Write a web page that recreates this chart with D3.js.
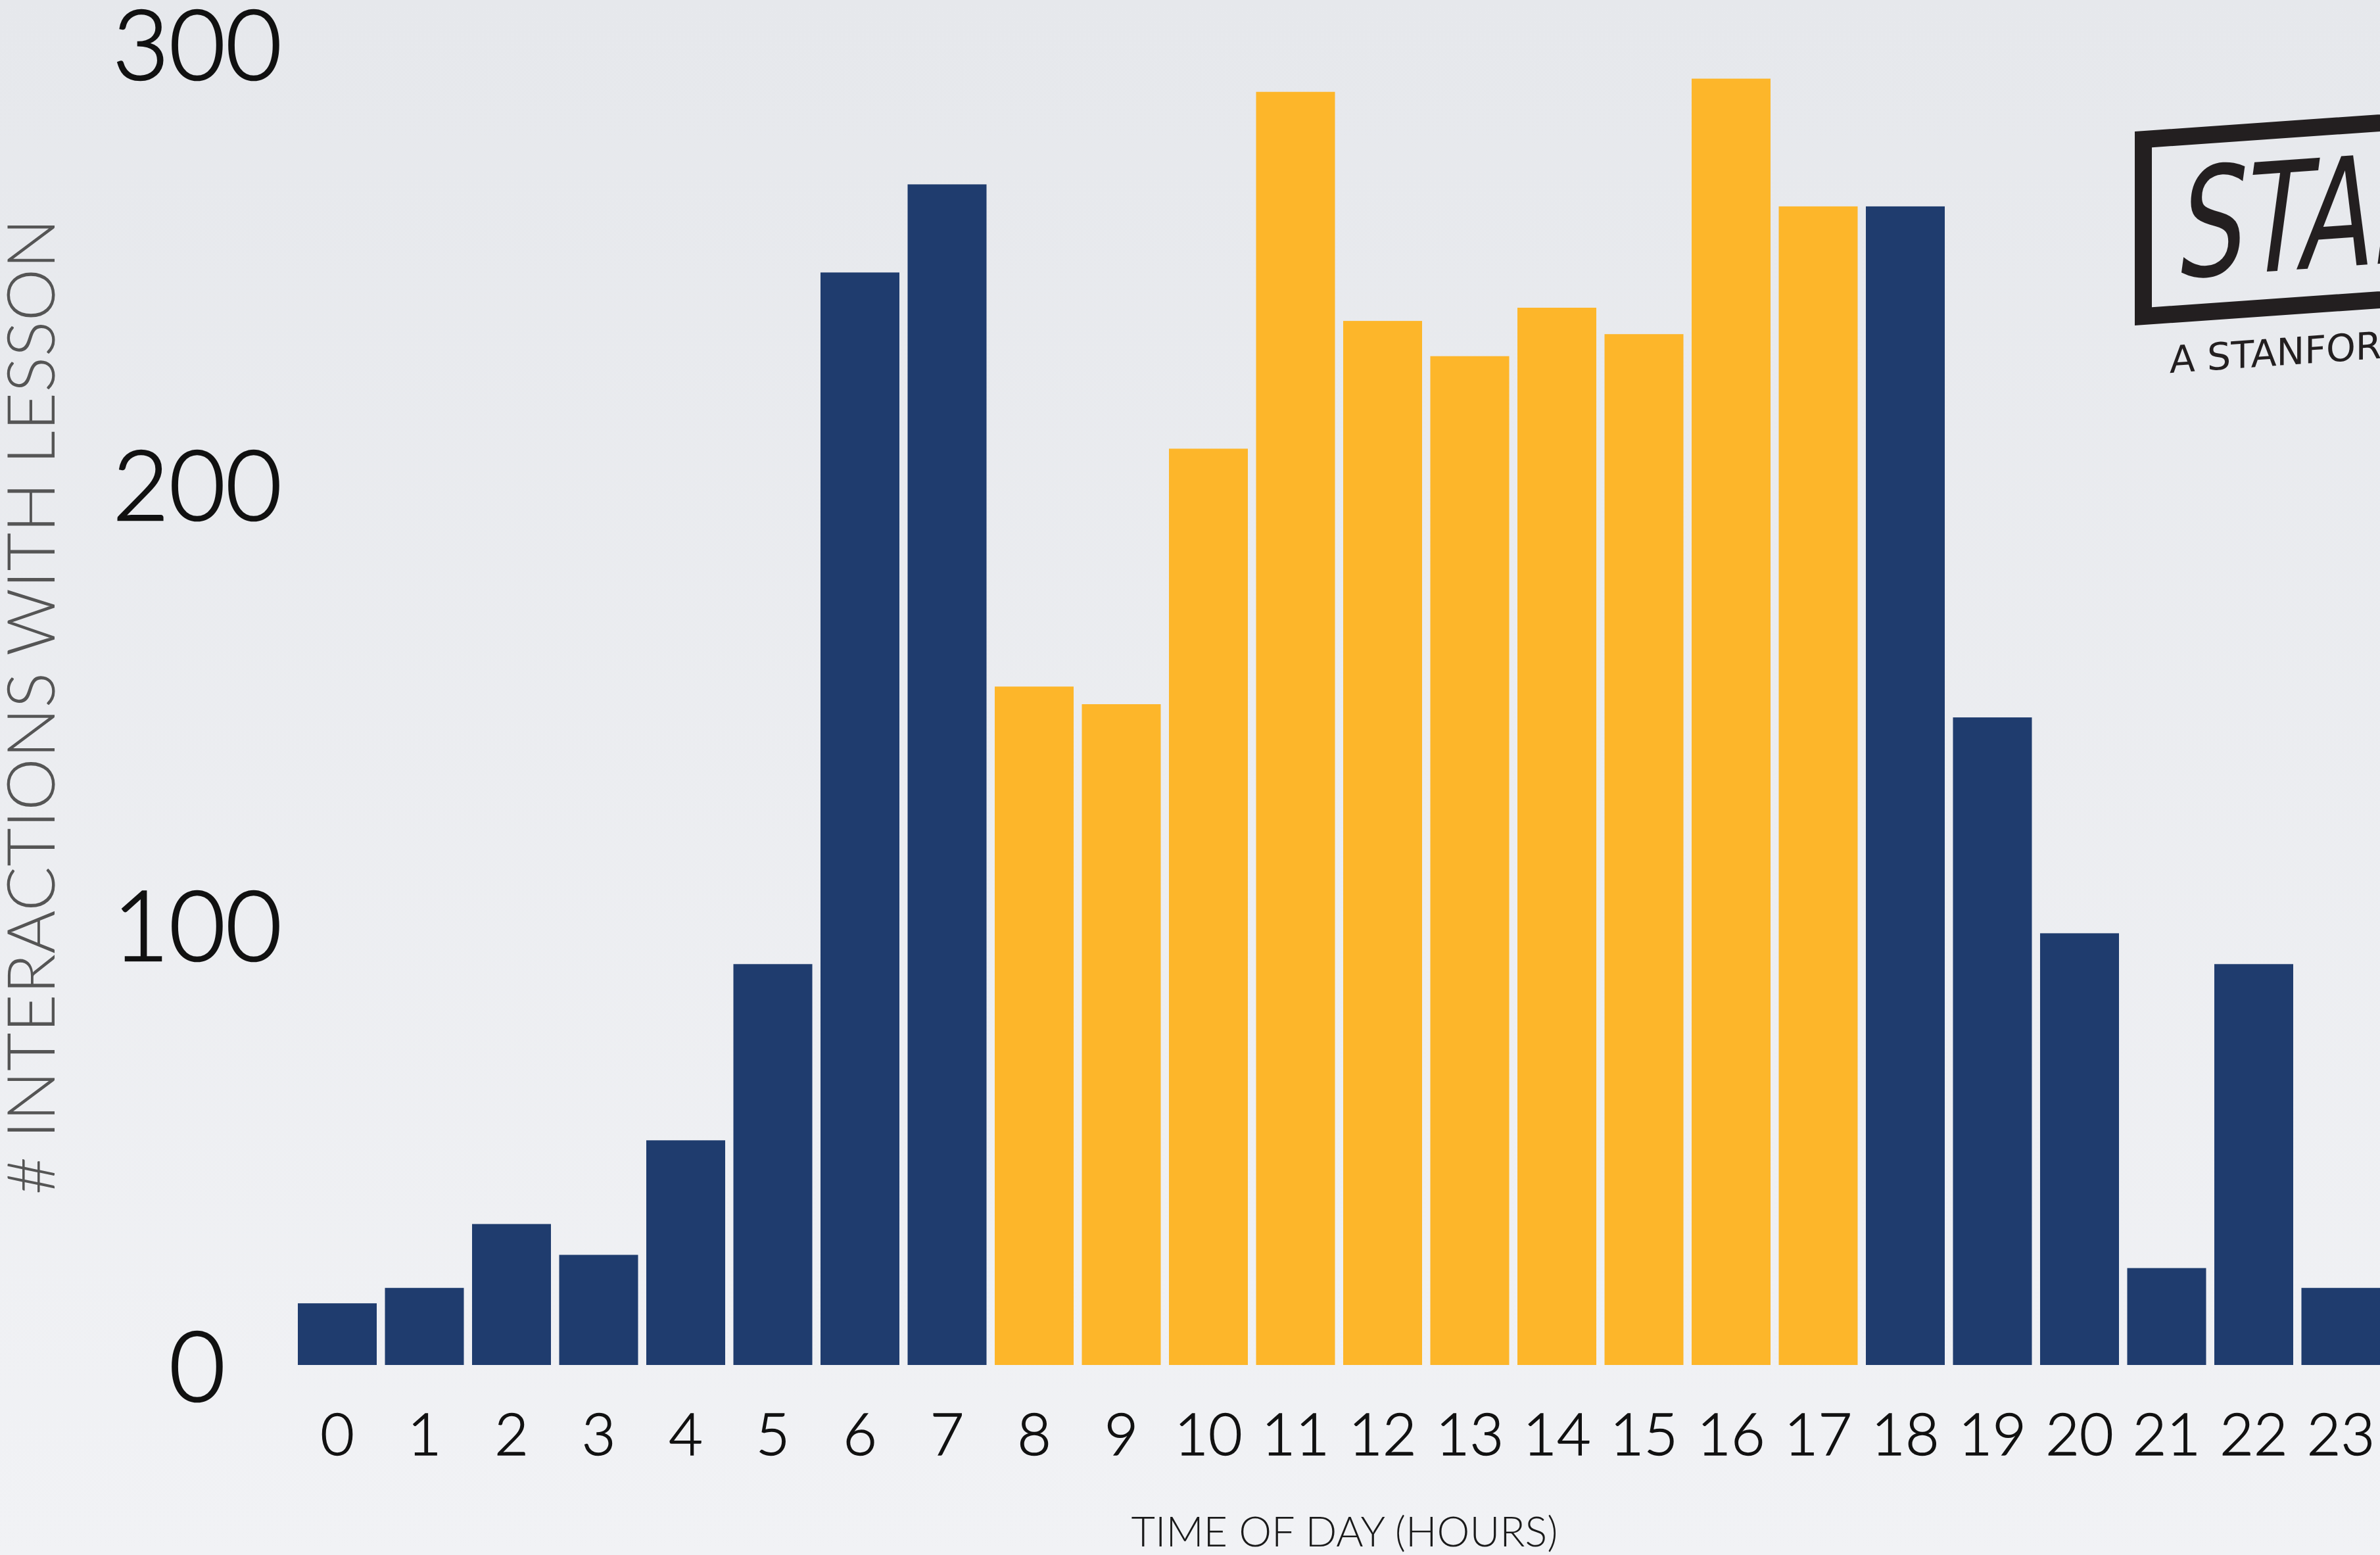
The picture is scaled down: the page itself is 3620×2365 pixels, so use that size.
<!DOCTYPE html>
<html>
<head>
<meta charset="utf-8">
<script src="https://cdn.jsdelivr.net/npm/d3@7"></script>
<style>
  html, body { margin: 0; padding: 0; background: #eceef1; overflow: hidden; }
  svg { display: block; }
</style>
</head>
<body>
<svg id="chart" width="3620" height="2365"></svg>
<script>
// ---- data ----
const hours = ["0","1","2","3","4","5","6","7","8","9","10","11","12","13","14","15","16","17","18","19","20","21","22","23"];
const interactions = [14, 17.5, 32, 25, 51, 91, 248, 268, 154, 150, 208, 289, 237, 229, 240, 234, 292, 263, 263, 147, 98, 22, 91, 17.5];
const highlighted = ["8","9","10","11","12","13","14","15","16","17"];
const yTicks = [0, 100, 200, 300];
const xTitle = "TIME OF DAY (HOURS)";
const yTitle = "# INTERACTIONS WITH LESSON";
const logoMain = "STANFORD";
const logoSub = "A STANFORD ONLINE COURSE";

// ---- layout ----
const W = 3620, H = 2365;
const svg = d3.select("#chart");

const defs = svg.append("defs");
const grad = defs.append("linearGradient").attr("id", "bg").attr("x1", 0).attr("y1", 0).attr("x2", 0).attr("y2", 1);
grad.append("stop").attr("offset", "0%").attr("stop-color", "#e6e8ec");
grad.append("stop").attr("offset", "100%").attr("stop-color", "#f1f2f5");
svg.append("rect").attr("width", W).attr("height", H).attr("fill", "url(#bg)");

const step = 132.5;
const x = d3.scaleBand()
  .domain(hours)
  .range([453 - step * 0.0472, 453 - step * 0.0472 + step * 24])
  .paddingInner(0.0943)
  .paddingOuter(0.0472);

const y = d3.scaleLinear().domain([0, 300]).range([2076, 66]);

const navy = "#1f3c6e", gold = "#fdb62a";

// bars
svg.append("g").selectAll("rect")
  .data(hours)
  .join("rect")
  .attr("x", d => x(d))
  .attr("width", x.bandwidth())
  .attr("y", (d, i) => y(interactions[i]))
  .attr("height", (d, i) => y(0) - y(interactions[i]))
  .attr("fill", d => highlighted.includes(d) ? gold : navy);

// x axis labels
const xAxis = d3.axisBottom(x).tickSize(0).tickPadding(0);
const gx = svg.append("g").attr("transform", "translate(0,2213)").call(xAxis);
gx.select(".domain").remove();
gx.selectAll("text")
  .attr("dy", 0)
  .attr("y", 0)
  .attr("font-family", "Lato, 'Open Sans', sans-serif")
  .attr("font-weight", 300)
  .attr("font-size", 89)
  .attr("fill", "#111")
  .attr("stroke", "#111")
  .attr("stroke-width", 1.5);

// y axis labels (centered at x=300)
const yAxis = d3.axisLeft(y).tickValues(yTicks).tickSize(0).tickPadding(0);
const gy = svg.append("g").attr("transform", "translate(300,0)").call(yAxis);
gy.select(".domain").remove();
gy.selectAll("text")
  .attr("x", 0)
  .attr("dy", 0)
  .attr("y", 54)
  .attr("text-anchor", "middle")
  .attr("font-family", "Lato, 'Open Sans', sans-serif")
  .attr("font-weight", 300)
  .attr("font-size", 148)
  .attr("fill", "#111")
  .attr("stroke", "#111")
  .attr("stroke-width", 2.5);

// axis titles
svg.append("text")
  .attr("x", 2045).attr("y", 2352)
  .attr("text-anchor", "middle")
  .attr("font-family", "Lato, 'Open Sans', sans-serif")
  .attr("font-weight", 300)
  .attr("font-size", 63)
  .attr("fill", "#1a1a1a")
  .text(xTitle);

svg.append("text")
  .attr("transform", "translate(83,1075) rotate(-90)")
  .attr("text-anchor", "middle")
  .attr("font-family", "Lato, 'Open Sans', sans-serif")
  .attr("font-weight", 300)
  .attr("font-size", 101)
  .attr("fill", "#555")
  .text(yTitle);

// logo (top right, partially off-canvas)
const logo = svg.append("g").attr("transform", "translate(3247,200) skewY(-4)");
logo.append("rect")
  .attr("x", 13).attr("y", 13)
  .attr("width", 1200).attr("height", 269)
  .attr("fill", "none")
  .attr("stroke", "#231f20")
  .attr("stroke-width", 26);
logo.append("text")
  .attr("transform", "translate(70,227) scale(0.78,1)")
  .attr("font-family", "'Liberation Sans Narrow', 'DejaVu Sans Condensed', sans-serif")
  .attr("font-style", "italic")
  .attr("font-size", 230)
  .attr("fill", "#231f20")
  .text(logoMain);
logo.append("text")
  .attr("x", 53).attr("y", 371)
  .attr("font-family", "'DejaVu Sans', sans-serif")
  .attr("font-size", 57)
  .attr("fill", "#231f20")
  .text(logoSub);
</script>
</body>
</html>
